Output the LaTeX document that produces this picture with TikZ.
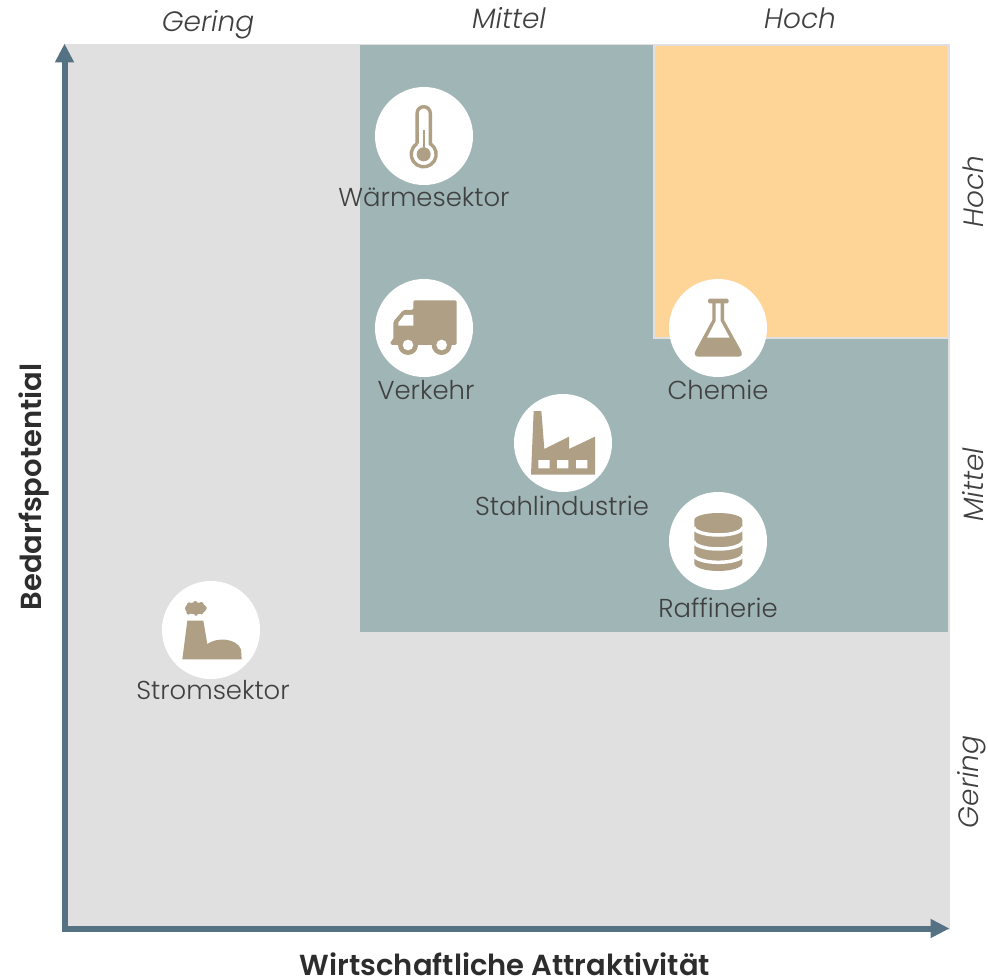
\documentclass[tikz,border=0pt]{standalone}
\usepackage{fontspec}
\usetikzlibrary{arrows.meta}
\setmainfont{Poppins Light}[ItalicFont={Poppins Light Italic},BoldFont={Poppins SemiBold}]
\definecolor{greybg}{HTML}{E0E0E0}
\definecolor{tealbg}{HTML}{9FB5B6}
\definecolor{orangebg}{HTML}{FFD597}
\definecolor{iconc}{HTML}{AE9F85}
\definecolor{axisc}{HTML}{557285}
\definecolor{textc}{HTML}{404040}
\tikzset{
 disc/.style={circle,fill=white,minimum size=98pt,inner sep=0pt},
 lbl/.style={text=textc,font=\fontsize{25.9}{28}\selectfont,inner sep=0pt,anchor=base},
 scalelbl/.style={text=textc,font=\fontsize{28}{30}\selectfont\itshape,inner sep=0pt,anchor=base},
 axlbl/.style={text=textc!70!black,font=\fontsize{29}{31}\selectfont\bfseries,inner sep=0pt,anchor=base},
 axisline/.style={draw=axisc,line width=6pt,-{Triangle[length=19pt,width=18pt]}},
 ico/.style={fill=iconc,draw=none},
 icow/.style={fill=white,draw=none},
}
\begin{document}
\begin{tikzpicture}[x=1pt,y=1pt,yscale=-1]
\useasboundingbox (0,0) rectangle (988,979);
\fill[greybg] (65,44) rectangle (950,930);
\fill[tealbg] (360,45) rectangle (948,632);
\fill[orangebg,draw=greybg,line width=1.5pt] (654,45) rectangle (948,338);
\coordinate (yfrom) at (64.5,931.5);
\coordinate (ytip) at (64.5,43.5);
\coordinate (xfrom) at (62,928.5);
\coordinate (xtip) at (949.5,928.5);
\draw[axisline] (yfrom) -- (ytip);
\draw[axisline] (xfrom) -- (xtip);
\node[disc] (cw) at (424,136) {};
\node[disc] (cv) at (424,328) {};
\node[disc] (cc) at (718,328) {};
\node[disc] (cs) at (563,443) {};
\node[disc] (cr) at (718,541) {};
\node[disc] (cp) at (211,630) {};
% thermometer
\draw[iconc,line width=3.4pt] (417.1,143.7) -- (417.1,113.3) arc[start angle=180,end angle=360,radius=6.6] -- (430.3,143.7) arc[start angle=-58,end angle=238,radius=12.5];
\fill[iconc] (423.7,154.3) circle[radius=7];
\fill[iconc] (422.5,130) rectangle (425,150);
% truck
\begin{scope}[shift={(340,70)},scale=1/3]
\fill[ico,rounded corners=1.5pt] (220,691) -- (350,691) -- (350,825) -- (152,825) -- (152,812) -- (160,810) -- (160,755) -- (190,720) -- (220,720) -- cycle;
\fill[icow] (220,735) -- (193,735) -- (175,758) -- (175,767) -- (220,767) -- cycle;
\fill[ico] (204,825) circle[radius=30] (305,825) circle[radius=30];
\fill[icow] (204,825) circle[radius=16] (305,825) circle[radius=16];
\end{scope}
% flask, factory
\begin{scope}[shift={(500,270)},scale=1/3]
\fill[ico,rounded corners=1.5pt] (624,86) rectangle (686,100);
\fill[ico] (637,95) -- (672,95) -- (672,150) -- (722,240)
  .. controls (728,250) and (727,260) .. (715,260) -- (595,260)
  .. controls (583,260) and (582,250) .. (588,240) -- (637,150) -- cycle;
\fill[icow] (647,100) -- (662,100) -- (662,153) -- (689,203) -- (621,203) -- (647,153) -- cycle;
\fill[ico] (101,423) -- (124,423) -- (133,537) -- (207,500) -- (207,537) -- (285,500) -- (285,614) -- (93,614) -- cycle;
\fill[icow] (115,570) rectangle (149,595) (171,570) rectangle (205,595) (228,570) rectangle (262,595);
\end{scope}
% drums
\begin{scope}[shift={(685,505)},scale=1/3]
\fill[ico] (28,45) arc[start angle=180,end angle=360,x radius=72,y radius=21] -- (172,175) arc[start angle=0,end angle=180,x radius=72,y radius=23] -- cycle;
\draw[white,line width=3.5pt] (26,66) arc[start angle=180,end angle=0,x radius=74,y radius=24];
\draw[white,line width=3.5pt] (26,108) arc[start angle=180,end angle=0,x radius=74,y radius=24];
\draw[white,line width=3.5pt] (26,148) arc[start angle=180,end angle=0,x radius=74,y radius=24];
\end{scope}
% power plant
\begin{scope}[shift={(130,570)},scale=1/3]
\fill[ico] (197,115) ellipse[x radius=32,y radius=18];
\fill[ico] (178,104) circle[radius=7] (196,99) circle[radius=6] (214,103) circle[radius=7] (224,114) circle[radius=6] (214,127) circle[radius=6] (198,133) circle[radius=5] (176,127) circle[radius=7];
\fill[ico] (172,152) -- (220,152) -- (232,222) .. controls (262,200) and (320,205) .. (333,238) -- (335,268) -- (157,268) -- cycle;
\end{scope}
\node[lbl] (lw) at (424,206) {Wärmesektor};
\node[lbl] (lv) at (426,399) {Verkehr};
\node[lbl] (lc) at (718,399) {Chemie};
\node[lbl] (ls) at (562,515) {Stahlindustrie};
\node[lbl] (lr) at (718,617) {Raffinerie};
\node[lbl] (lp) at (213,699) {Stromsektor};
\node[scalelbl] (t1) at (208,32) {Gering};
\node[scalelbl] (t2) at (509,29) {Mittel};
\node[scalelbl] (t3) at (800,29) {Hoch};
\node[scalelbl,rotate=90] (r1) at (983,192) {Hoch};
\node[scalelbl,rotate=90] (r2) at (983,485) {Mittel};
\node[scalelbl,rotate=90] (r3) at (978,782) {Gering};
\node[axlbl] (ax) at (505,975) {Wirtschaftliche Attraktivität};
\node[axlbl,rotate=90] (ay) at (41,487) {Bedarfspotential};
\end{tikzpicture}
\end{document}
